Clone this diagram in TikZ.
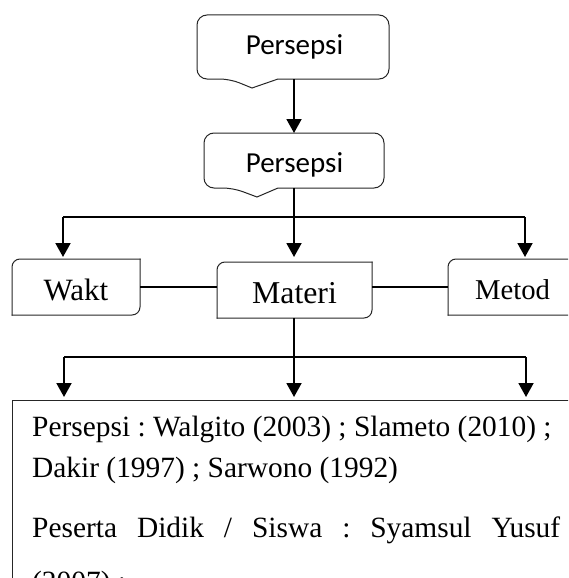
\documentclass[tikz,border=0pt]{standalone}
\usepackage{fontspec}
\setmainfont{Liberation Serif}
\newfontfamily\calib{Carlito}
\usetikzlibrary{arrows.meta}
\frenchspacing
\begin{document}
\begin{tikzpicture}[x=1pt,y=-1pt,
  arr/.style={line width=1.9pt,-{Triangle[length=14pt,width=15pt]}},
  link/.style={line width=1.9pt},
  thinlink/.style={line width=1.4pt},
  boxline/.style={line width=1pt,draw=black!85,line cap=rect},
  shapebox/.style={inner sep=0pt,outer sep=0pt},
  lbl/.style={inner sep=0pt,anchor=base},
  sanslbl/.style={lbl,font=\calib\fontsize{29}{34}\selectfont},
  bodytext/.style={inner sep=0pt,anchor=base west,font=\fontsize{29.4}{35}\selectfont},
]
\useasboundingbox (0,0) rectangle (568,578);
\clip (0,0) rectangle (568,578);

% ---- top callout boxes
\node[shapebox,minimum width=192pt,minimum height=64pt] (p1) at (293,47) {};
\draw[boxline] (278,79) [rounded corners=10pt] -- (389,79) -- (389,15) -- (197,15) -- (197,79) -- (230,79) [sharp corners] -- (252,88) -- cycle;
\node[sanslbl] (t1) at (294.5,55) {Persepsi};

\node[shapebox,minimum width=180pt,minimum height=55pt] (p2) at (294,160.5) {};
\draw[boxline] (278,188) [rounded corners=10pt] -- (384,188) -- (384,133) -- (204,133) -- (204,188) -- (233,188) [sharp corners] -- (257,197) -- cycle;
\node[sanslbl] (t2) at (294.5,172) {Persepsi};

\draw[arr] (p1.south -| p2.north) -- (p2.north);

% ---- middle row
\node[shapebox,minimum width=128pt,minimum height=56pt] (wakt) at (76,287) {};
\node[shapebox,minimum width=155pt,minimum height=56pt] (materi) at (294.5,290) {};
\node[shapebox,minimum width=129pt,minimum height=56pt] (metod) at (512.5,287) {};

\foreach \b in {wakt,materi,metod}{
  \draw[boxline,rounded corners=8pt] (\b.south west) -- (\b.north west) -- (\b.north east);
  \draw[boxline,rounded corners=8pt] (\b.north east) -- (\b.south east) -- (\b.south west);
}
\node[lbl,font=\fontsize{31}{36}\selectfont] (tw) at (76,300) {Wakt};
\node[lbl,font=\fontsize{31.8}{37}\selectfont] (tm) at (294.5,303) {Materi};
\node[lbl,font=\fontsize{28.7}{34}\selectfont] (tme) at (512.5,299) {Metod};

\coordinate (j1) at (294,217);
\coordinate (jl) at (63,217);
\coordinate (jr) at (525,217);
\draw[link] (p2.south) -- (j1);
\draw[link] (jl) -- (jr);
\draw[arr,shorten >=2pt] (jl) -- (jl |- wakt.north);
\draw[arr,shorten >=5pt] (j1) -- (j1 |- materi.north);
\draw[arr,shorten >=2pt] (jr) -- (jr |- metod.north);

\draw[thinlink] (wakt.east) -- (wakt.east -| materi.west);
\draw[thinlink] (metod.west -| materi.east) -- (metod.west);

% ---- bottom
\node[shapebox,minimum width=588pt,minimum height=300pt] (lit) at (306,550) {};
\draw[boxline] (lit.north west) rectangle (lit.south east);

\coordinate (j2) at (294,357);
\coordinate (kl) at (64,357);
\coordinate (kr) at (526,357);
\draw[thinlink] (materi.south -| j2) -- (j2);
\draw[link] (kl) -- (kr);
\draw[arr,shorten >=3pt] (kl) -- (kl |- lit.north);
\draw[arr,shorten >=3pt] (j2) -- (j2 |- lit.north);
\draw[arr,shorten >=3pt] (kr) -- (kr |- lit.north);

\node[bodytext] (l1) at (32,436) {Persepsi : Walgito (2003) ; Slameto (2010) ;};
\node[bodytext] (l2) at (32,477) {Dakir (1997) ; Sarwono (1992)};
\node[bodytext] (l3) at (32,537) {\makebox[528pt][s]{Peserta Didik / Siswa : Syamsul Yusuf}};
\node[bodytext] (l4) at (32,591) {(2007) ;};
\end{tikzpicture}
\end{document}
